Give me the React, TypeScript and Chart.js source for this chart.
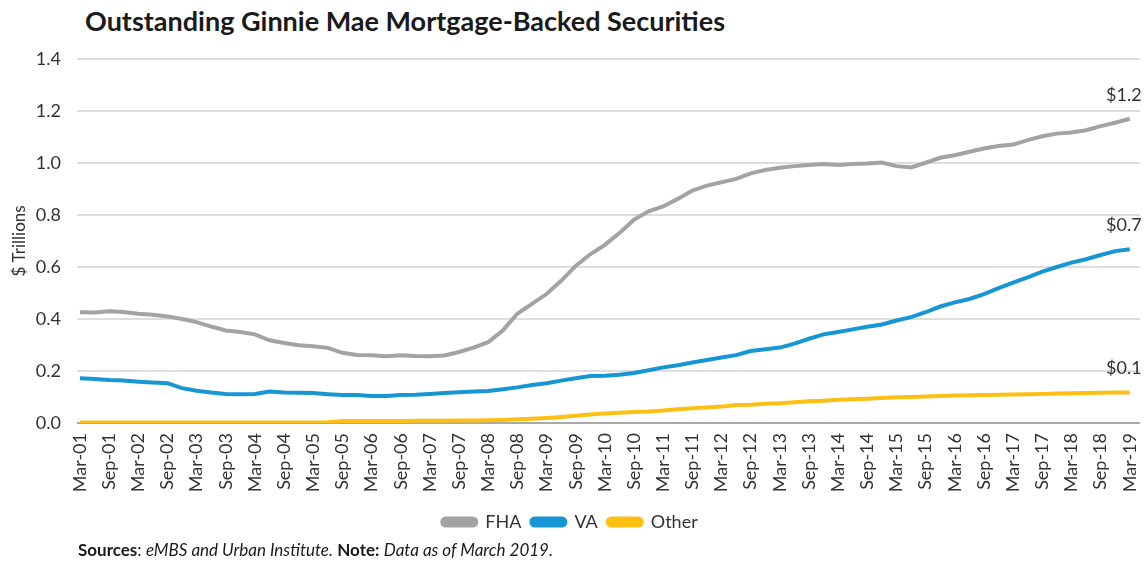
import React, { useEffect, useRef } from 'react';
import { Chart, registerables } from 'chart.js';

Chart.register(...registerables);

const tickLabels = [
  'Mar-01', 'Sep-01', 'Mar-02', 'Sep-02', 'Mar-03', 'Sep-03', 'Mar-04', 'Sep-04',
  'Mar-05', 'Sep-05', 'Mar-06', 'Sep-06', 'Mar-07', 'Sep-07', 'Mar-08', 'Sep-08',
  'Mar-09', 'Sep-09', 'Mar-10', 'Sep-10', 'Mar-11', 'Sep-11', 'Mar-12', 'Sep-12',
  'Mar-13', 'Sep-13', 'Mar-14', 'Sep-14', 'Mar-15', 'Sep-15', 'Mar-16', 'Sep-16',
  'Mar-17', 'Sep-17', 'Mar-18', 'Sep-18', 'Mar-19',
];

// Quarterly values, Mar-01 .. Mar-19 ($ trillions)
const fha = [
  0.426, 0.425, 0.430, 0.427, 0.420, 0.416, 0.410, 0.400, 0.388, 0.371,
  0.356, 0.350, 0.341, 0.318, 0.308, 0.299, 0.295, 0.289, 0.270, 0.262,
  0.261, 0.257, 0.261, 0.258, 0.257, 0.260, 0.273, 0.290, 0.311, 0.356,
  0.420, 0.458, 0.496, 0.547, 0.604, 0.649, 0.685, 0.731, 0.782, 0.814,
  0.833, 0.862, 0.894, 0.913, 0.926, 0.939, 0.960, 0.973, 0.982, 0.988,
  0.992, 0.996, 0.992, 0.996, 0.998, 1.002, 0.988, 0.983, 1.001, 1.020,
  1.030, 1.043, 1.056, 1.065, 1.071, 1.088, 1.103, 1.113, 1.117, 1.126,
  1.142, 1.155, 1.170,
];

const va = [
  0.172, 0.169, 0.165, 0.163, 0.159, 0.156, 0.153, 0.134, 0.124, 0.117,
  0.112, 0.111, 0.112, 0.121, 0.117, 0.116, 0.115, 0.111, 0.108, 0.108,
  0.104, 0.104, 0.108, 0.109, 0.112, 0.115, 0.118, 0.121, 0.123, 0.130,
  0.137, 0.146, 0.153, 0.163, 0.172, 0.181, 0.182, 0.186, 0.192, 0.203,
  0.214, 0.222, 0.233, 0.242, 0.252, 0.261, 0.277, 0.284, 0.290, 0.305,
  0.324, 0.341, 0.350, 0.360, 0.370, 0.379, 0.394, 0.407, 0.426, 0.448,
  0.464, 0.477, 0.496, 0.519, 0.540, 0.560, 0.582, 0.600, 0.617, 0.630,
  0.646, 0.661, 0.668,
];

const other = [
  0.002, 0.002, 0.002, 0.002, 0.002, 0.002, 0.002, 0.002, 0.002, 0.002,
  0.002, 0.002, 0.002, 0.002, 0.002, 0.002, 0.002, 0.003, 0.008, 0.008,
  0.008, 0.008, 0.008, 0.009, 0.009, 0.009, 0.010, 0.010, 0.011, 0.012,
  0.014, 0.016, 0.019, 0.023, 0.028, 0.033, 0.037, 0.039, 0.042, 0.044,
  0.048, 0.053, 0.057, 0.060, 0.063, 0.069, 0.070, 0.074, 0.076, 0.080,
  0.084, 0.086, 0.089, 0.091, 0.093, 0.096, 0.099, 0.100, 0.102, 0.104,
  0.106, 0.107, 0.108, 0.109, 0.110, 0.111, 0.112, 0.113, 0.114, 0.115,
  0.116, 0.117, 0.117,
];

const seriesNames = ['FHA', 'VA', 'Other'];
const seriesColors = ['#a3a3a3', '#1696d2', '#fdbf11'];
const endLabels = ['$1.2', '$0.7', '$0.1'];
const yTicks = [0, 0.2, 0.4, 0.6, 0.8, 1.0, 1.2, 1.4];

const FONT = 'Lato, "Open Sans", sans-serif';
const TEXT = '#333333';

const endLabelPlugin = {
  id: 'endLabels',
  afterDatasetsDraw(chart: any) {
    const ctx = chart.ctx;
    ctx.save();
    ctx.font = `18px ${FONT}`;
    ctx.fillStyle = TEXT;
    ctx.textAlign = 'center';
    ctx.textBaseline = 'middle';
    chart.data.datasets.forEach((_ds: any, i: number) => {
      const meta = chart.getDatasetMeta(i);
      const pt = meta.data[meta.data.length - 1];
      if (pt) ctx.fillText(endLabels[i], pt.x - 6, pt.y - 24);
    });
    ctx.restore();
  },
};

export default function App() {
  const canvasRef = useRef<HTMLCanvasElement | null>(null);

  useEffect(() => {
    const canvas = canvasRef.current;
    if (!canvas) return;
    const series = [fha, va, other];
    const chart = new Chart(canvas, {
      type: 'line',
      data: {
        datasets: series.map((vals, i) => ({
          label: seriesNames[i],
          data: vals.map((v, q) => ({ x: q, y: v })),
          borderColor: seriesColors[i],
          backgroundColor: seriesColors[i],
          borderWidth: 4,
          pointRadius: 0,
          tension: 0,
          fill: false,
        })),
      },
      options: {
        responsive: false,
        animation: false,
        layout: { padding: { top: 59, right: 7, bottom: 24, left: 0 } },
        plugins: {
          legend: {
            position: 'bottom',
            labels: {
              font: { family: FONT, size: 18 },
              color: TEXT,
              boxWidth: 34,
              boxHeight: 7,
              useBorderRadius: true,
              borderRadius: 3.5,
              padding: 10,
            },
          },
          tooltip: { enabled: false },
          title: { display: false },
        },
        scales: {
          x: {
            type: 'linear',
            min: -0.2,
            max: 72.7,
            afterBuildTicks: (scale: any) => {
              scale.ticks = tickLabels.map((_l, i) => ({ value: i * 2 }));
            },
            afterFit: (scale: any) => {
              scale.height = 80;
              scale.paddingLeft = 0;
              scale.paddingRight = 0;
            },
            grid: { display: false, drawTicks: false },
            border: { display: false },
            ticks: {
              autoSkip: false,
              minRotation: 90,
              maxRotation: 90,
              padding: 10,
              color: TEXT,
              font: { family: FONT, size: 18 },
              callback: (v: any) => tickLabels[Math.round(Number(v) / 2)] ?? '',
            },
          },
          y: {
            min: 0,
            max: 1.4,
            afterBuildTicks: (scale: any) => {
              scale.ticks = yTicks.map((v) => ({ value: v }));
            },
            afterFit: (scale: any) => {
              scale.width = 77;
              scale.paddingTop = 0;
              scale.paddingBottom = 0;
            },
            grid: {
              drawTicks: false,
              lineWidth: 2,
              color: (c: any) => (c.tick && c.tick.value === 0 ? '#a9a9a9' : '#dedede'),
            },
            border: { display: false },
            ticks: {
              padding: 16,
              color: TEXT,
              font: { family: FONT, size: 18 },
              callback: (v: any) => Number(v).toFixed(1),
            },
            title: {
              display: true,
              text: '$ Trillions',
              color: TEXT,
              font: { family: FONT, size: 17 },
              padding: { top: 9, bottom: 0 },
            },
          },
        },
      },
      plugins: [endLabelPlugin],
    } as any);
    return () => chart.destroy();
  }, []);

  return (
    <div style={{ position: 'absolute', left: 0, top: 0, width: 1147, height: 565, background: '#fff', fontFamily: FONT }}>
      <div
        style={{
          position: 'absolute',
          left: 85,
          top: 4,
          fontSize: 27,
          lineHeight: '34px',
          fontWeight: 700,
          color: '#1a1a1a',
          whiteSpace: 'nowrap',
        }}
      >
        Outstanding Ginnie Mae Mortgage-Backed Securities
      </div>
      <canvas ref={canvasRef} width={1147} height={565} style={{ position: 'absolute', left: 0, top: 0 }} />
      <div
        style={{
          position: 'absolute',
          left: 78,
          top: 540,
          fontSize: 17,
          lineHeight: '20px',
          color: '#1a1a1a',
          whiteSpace: 'nowrap',
        }}
      >
        <b>Sources</b>: <i>eMBS and Urban Institute.</i> <b>Note:</b> <i>Data as of March 2019.</i>
      </div>
    </div>
  );
}
